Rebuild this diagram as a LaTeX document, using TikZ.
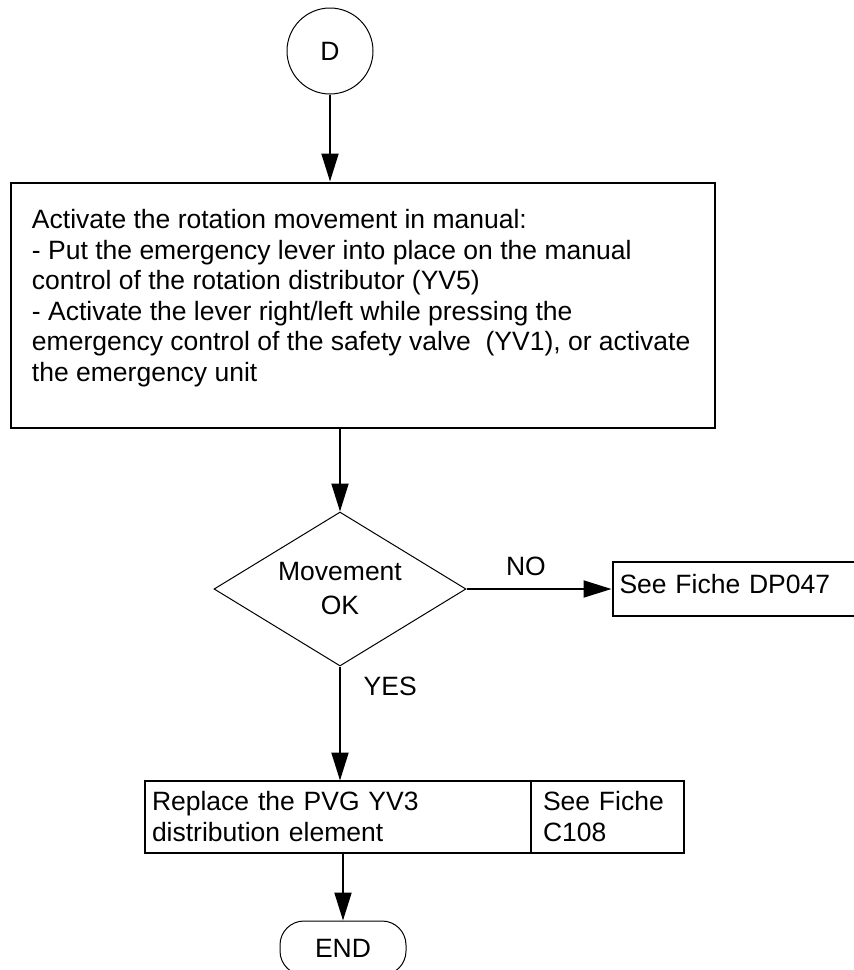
\documentclass[tikz,border=0pt]{standalone}
\usepackage{fontspec}
\setmainfont{Liberation Sans}
\usetikzlibrary{positioning, arrows.meta, shapes.geometric}

\begin{document}
\begin{tikzpicture}[
  x=0.5pt, y=-0.5pt,
  font=\fontsize{13.25pt}{15.75pt}\selectfont,
  conn/.style={circle, draw, line width=0.5pt, minimum size=43pt, inner sep=0pt},
  action/.style={rectangle, draw, line width=1pt, inner xsep=10.5pt, inner ysep=13.6pt, font=\fontsize{13.25pt}{15.25pt}\selectfont},
  decision/.style={diamond, draw, line width=0.5pt, aspect=1.64, minimum width=126pt, minimum height=77pt, inner sep=0pt, align=center, font=\fontsize{13.25pt}{17pt}\selectfont},
  cell/.style={rectangle, draw, line width=1pt, outer sep=0pt, minimum height=36pt, inner xsep=3.5pt, align=left},
  fiche/.style={rectangle, draw, line width=1pt, text width=123pt, inner xsep=3.5pt, inner ysep=0pt, text height=15.5pt, text depth=11.5pt, align=left},
  term/.style={rectangle, draw, line width=0.5pt, rounded corners=12pt, minimum width=63pt, minimum height=27pt},
  arr/.style={-{Triangle[length=14pt, width=8.5pt]}, line width=1pt}
]
  \useasboundingbox (0,0) rectangle (853,970);

  \node[conn] (d) at (330,51) {D};
  \node[action, below=43.5pt of d, xshift=16.5pt] (act) {\parbox[t][95.3pt][t]{331pt}{\raggedright
    Activate the rotation movement in manual:\\
    - Put the emergency lever into place on the manual\\
    control of the rotation distributor (YV5)\\
    - Activate the lever right/left while pressing the\\
    emergency control of the safety valve\ \ (YV1), or activate\\
    the emergency unit}};
  \node[decision, below=41.5pt of act, xshift=-11.5pt] (dec) {Movement\\OK};
  \node[fiche, right=72.5pt of dec] (dp) {See Fiche DP047};
  \node[cell, text width=186pt, below=57pt of dec, xshift=-1pt] (repl) {Replace the PVG YV3\\distribution element};
  \node[cell, text width=64.5pt, inner xsep=6pt, right=0pt of repl] (seec) {See Fiche\\C108};
  \node[term, below=34pt of repl, xshift=2.5pt] (endn) {END};

  \draw[arr] (d) -- (d |- act.north);
  \draw[arr] (act.south -| dec.north) -- (dec.north);
  \draw[arr] (dec) -- node[above=3pt, pos=0.41] {NO} (dp);
  \draw[arr] (dec.south) -- node[right=8pt, pos=0.175] {YES} (dec.south |- repl.north);
  \draw[arr] (endn.north |- repl.south) -- (endn.north);
\end{tikzpicture}
\end{document}
